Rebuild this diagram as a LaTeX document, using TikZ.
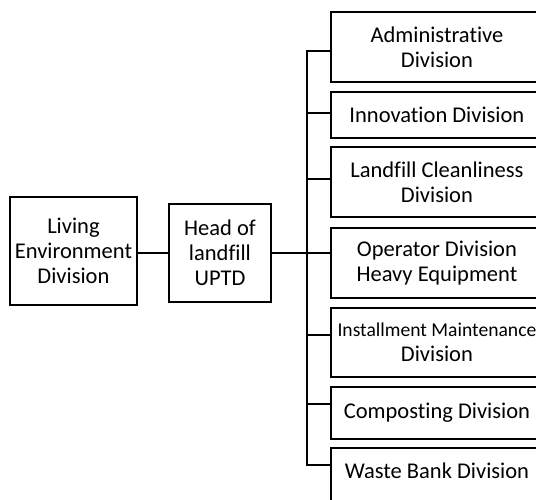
\documentclass[tikz,border=0pt]{standalone}
\usepackage{fontspec}
\setmainfont{Carlito}[Ligatures=NoCommon]
\usetikzlibrary{positioning}

\tikzset{
  unit/.style={draw=black,line width=1.9pt,align=center,inner sep=0pt,
    font=\fontsize{22.5}{25}\selectfont},
  link/.style={line width=1.9pt}
}

\begin{document}
\begin{tikzpicture}[line cap=rect,line join=miter,x=1pt,y=-1pt]
		\useasboundingbox (0,0) rectangle (536,500);
		\clip (0,0) rectangle (536,500);
		% left part of the chart
		\node[unit,minimum width=127,minimum height=108,anchor=north west] (env) at (9,196) {Living\\Environment\\Division};
		\node[unit,minimum width=102,minimum height=98,anchor=north west] (head) at (168,203) {Head of\\landfill\\UPTD};
		\draw[link] (head.west) -- (head.west -| env.east);
		% divisions under the head
		\node[unit,minimum width=212,minimum height=70,anchor=north west] (adm) at (330,11) {Administrative\\Division};
		\node[unit,minimum width=212,minimum height=46,anchor=north west] (inno) at (330,91) {Innovation Division};
		\node[unit,minimum width=212,minimum height=70,anchor=north west] (clean) at (330,146) {Landfill Cleanliness\\Division};
		\node[unit,minimum width=212,minimum height=70,anchor=north west] (oper) at (330,227) {Operator Division\\Heavy Equipment};
		\node[unit,minimum width=212,minimum height=69,anchor=north west] (inst) at (330,307) {\fontsize{19.6}{25}\selectfont Installment Maintenance\\Division};
		\node[unit,minimum width=212,minimum height=52,anchor=north west] (comp) at (330,386) {Composting Division};
		\node[unit,minimum width=212,inner ysep=15,text height=16,text depth=30,anchor=north west] (bank) at (330,447) {Waste Bank Division};
		% trunk and branches
		\coordinate (top) at (307,51);
		\coordinate (bot) at (307,465);
		\draw[link] (top) -- (bot);
		\draw[link] (head.east) -- (head.east -| top);
		\foreach \unitname/\y in {adm/51,inno/113,clean/179,oper/253,inst/335,comp/404,bank/465}
			\draw[link] (307,\y) -- (\unitname.west |- 0,\y);
	\end{tikzpicture}
\end{document}
